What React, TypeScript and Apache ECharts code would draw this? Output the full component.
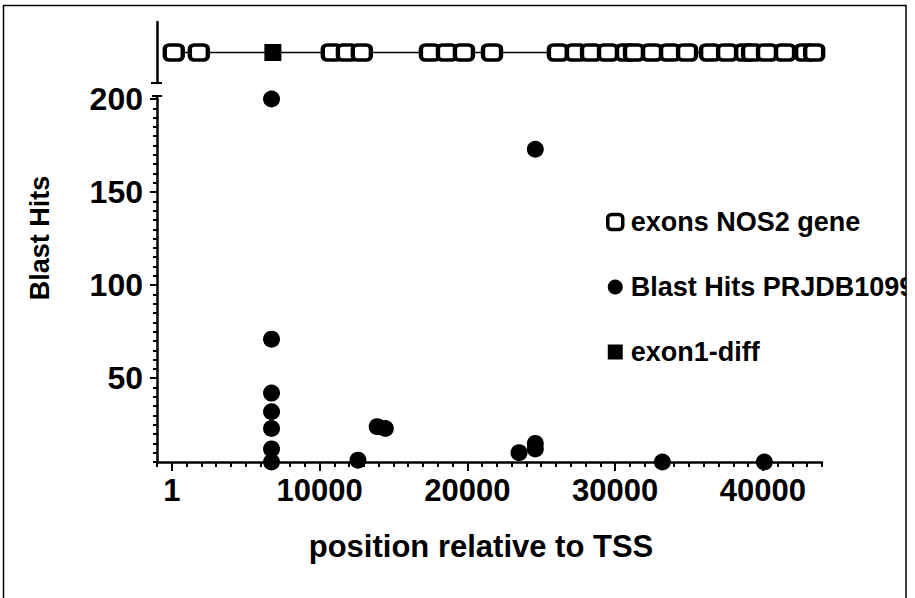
import React, { useEffect, useRef } from 'react';
import * as echarts from 'echarts';

// ---- data ----
const X_TICK_LABELS = [0, 10000, 20000, 30000, 40000];
const Y_TICK_LABELS = [50, 100, 150, 200];

const EXON_X = [135, 1830, 10830, 11850, 12860, 17470, 18620, 19770, 21670, 26130, 27350, 28370, 29520, 30740, 31280, 32500, 33720, 34870, 36430, 37580, 38800, 39270, 40280, 41500, 42860, 43470];
const EXON_LEVEL = 225;
const EXON1_DIFF_X = [6840];

const BLAST_X = [6750, 24600, 6750, 6750, 6750, 6750, 6750, 6750, 13900, 14450, 12600, 23500, 24600, 24600, 33200, 40100];
const BLAST_Y = [200, 173, 71, 42, 32, 23, 12, 5, 24, 23, 6, 10, 15, 12, 5, 5];

const FONT = '"Liberation Sans", Arial, sans-serif';

export default function App() {
  const ref = useRef<HTMLDivElement>(null);
  useEffect(() => {
    const chart = echarts.init(ref.current!, null, { renderer: 'svg' });
    const axisLine = { show: true, onZero: false, lineStyle: { color: '#000', width: 2.5 } };
    chart.setOption({
      animation: false,
      backgroundColor: '#fff',
      textStyle: { fontFamily: FONT },
      grid: [
        { left: 157, right: 93, top: 99, bottom: 136 },
        { left: 157, right: 93, top: 22, height: 61 },
      ],
      xAxis: [
        {
          gridIndex: 0, type: 'value', min: -1000, max: 44000, interval: 1000, position: 'bottom',
          axisLine,
          axisTick: { length: 5, lineStyle: { color: '#000', width: 2 } },
          axisLabel: {
            customValues: X_TICK_LABELS,
            formatter: (v: number) => (v === 0 ? '1' : String(v)),
            fontSize: 31, fontWeight: 'bold', color: '#000', fontFamily: FONT, margin: 13,
          },
          splitLine: { show: false },
        },
        {
          gridIndex: 0, type: 'value', min: -1000, max: 44000, position: 'bottom',
          axisLine: { show: false, onZero: false },
          axisTick: { show: true, customValues: X_TICK_LABELS, length: 9, lineStyle: { color: '#000', width: 2 } },
          axisLabel: { show: false },
          splitLine: { show: false },
        },
        { gridIndex: 1, type: 'value', min: -1000, max: 44000, show: false },
      ],
      yAxis: [
        {
          gridIndex: 0, type: 'value', min: 5, max: 200, interval: 5,
          axisLine,
          axisTick: { length: 4, lineStyle: { color: '#000', width: 2 } },
          axisLabel: {
            customValues: Y_TICK_LABELS,
            fontSize: 32, fontWeight: 'bold', color: '#000', fontFamily: FONT, margin: 14,
          },
          splitLine: { show: false },
        },
        {
          gridIndex: 0, type: 'value', min: 5, max: 200, position: 'left',
          axisLine: { show: false, onZero: false },
          axisTick: { show: true, customValues: Y_TICK_LABELS, length: 7, lineStyle: { color: '#000', width: 2 } },
          axisLabel: { show: false },
          splitLine: { show: false },
        },
        {
          gridIndex: 1, type: 'value', min: 210, max: 240,
          axisLine,
          axisTick: { show: false }, axisLabel: { show: false }, splitLine: { show: false },
        },
      ],
      legend: {
        orient: 'vertical', left: 601, top: 202, itemWidth: 15, itemHeight: 15, itemGap: 35,
        selectedMode: false,
        textStyle: { fontSize: 27, fontWeight: 'bold', color: '#000', fontFamily: FONT, lineHeight: 30, padding: [0, 0, 0, 3] },
        data: [
          { name: 'exons NOS2 gene', icon: 'roundRect', itemStyle: { color: '#fff', borderColor: '#000', borderWidth: 3.5 } },
          { name: 'Blast Hits PRJDB1099', icon: 'circle', itemStyle: { color: '#000', borderWidth: 0, opacity: 1 } },
          { name: 'exon1-diff', icon: 'rect', itemStyle: { color: '#000', borderWidth: 0, opacity: 1 } },
        ],
      },
      series: [
        {
          name: 'exons NOS2 gene', type: 'line', xAxisIndex: 2, yAxisIndex: 2,
          data: EXON_X.map((x) => [x, EXON_LEVEL]),
          symbol: 'roundRect', symbolSize: [18, 15], showAllSymbol: true,
          lineStyle: { color: '#000', width: 1.5 },
          itemStyle: { color: '#fff', borderColor: '#000', borderWidth: 4, opacity: 1 },
          clip: false, z: 2,
        },
        {
          name: 'Blast Hits PRJDB1099', type: 'scatter', xAxisIndex: 0, yAxisIndex: 0,
          data: BLAST_X.map((x, i) => [x, BLAST_Y[i]]),
          symbol: 'circle', symbolSize: 17, itemStyle: { color: '#000', opacity: 1 }, clip: false, z: 3,
        },
        {
          name: 'exon1-diff', type: 'scatter', xAxisIndex: 2, yAxisIndex: 2,
          data: EXON1_DIFF_X.map((x) => [x, EXON_LEVEL]),
          symbol: 'rect', symbolSize: 17, itemStyle: { color: '#000', opacity: 1 }, clip: false, z: 4,
        },
      ],
      graphic: [
        { type: 'line', z: 10, shape: { x1: 151, y1: 83, x2: 162, y2: 83 }, style: { stroke: '#000', lineWidth: 2 } },
        { type: 'line', z: 10, shape: { x1: 157, y1: 96, x2: 157, y2: 100 }, style: { stroke: '#000', lineWidth: 2.5 } },
        { type: 'line', z: 10, shape: { x1: 152, y1: 96, x2: 162, y2: 96 }, style: { stroke: '#000', lineWidth: 2 } },
        {
          type: 'text', z: 10, x: 40, y: 238, rotation: Math.PI / 2,
          style: { text: 'Blast Hits', fontSize: 27, fontWeight: 'bold', fill: '#000', fontFamily: FONT, align: 'center', verticalAlign: 'middle' },
        },
        {
          type: 'text', z: 10, x: 481, y: 546,
          style: { text: 'position relative to TSS', fontSize: 31, fontWeight: 'bold', fill: '#000', fontFamily: FONT, align: 'center', verticalAlign: 'middle' },
        },
        { type: 'rect', z: 50, shape: { x: 906.5, y: 0, width: 20, height: 600 }, style: { fill: '#fff' } },
        { type: 'rect', z: 60, shape: { x: 3.5, y: 5.5, width: 902.5, height: 640 }, style: { fill: 'none', stroke: '#000', lineWidth: 1.5 } },
      ],
    });
    return () => chart.dispose();
  }, []);
  return <div ref={ref} style={{ position: 'fixed', left: 0, top: 0, width: 915, height: 598 }} />;
}
